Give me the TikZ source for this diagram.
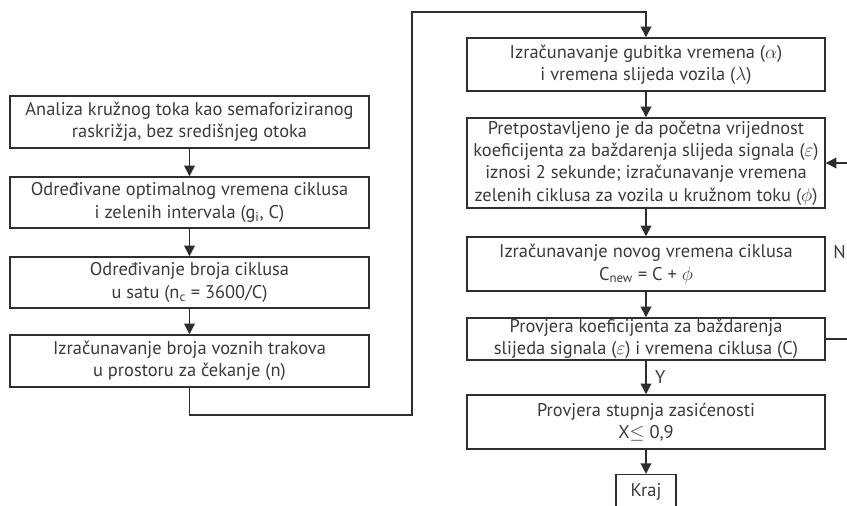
\documentclass[tikz,border=0pt]{standalone}
\usepackage{fontspec}
\setmainfont{PT Sans}
\usepackage{tikz}
\usetikzlibrary{arrows.meta,calc}
\usetikzlibrary{positioning}
\definecolor{ink}{HTML}{2E2E2E}
\definecolor{txt}{HTML}{3A3A3A}

\begin{document}
\begin{tikzpicture}[x=0.75pt,y=-0.75pt,>={Triangle[length=8pt,width=8pt]},line join=miter,
  font=\fontsize{13.8}{16.8}\selectfont,
  every node/.style={text=txt},
  lbox/.style={draw=ink,line width=1.1pt,align=center,minimum width=269pt,inner sep=0pt},
  rbox/.style={draw=ink,line width=1.1pt,align=center,minimum width=268.5pt,inner sep=0pt},
  flow/.style={draw=ink,line width=1.1pt}]
\clip (0,0) rectangle (847,506);
% --- left column
\node[lbox,minimum height=39pt] (anal) at (189.5,122) {Analiza kružnog toka kao semaforiziranog\\ raskrižja, bez središnjeg otoka};
\node[lbox,minimum height=38.25pt] (ciklus) at (189.5,202.5) {Određivane optimalnog vremena ciklusa\\ i zelenih intervala (g\textsubscript{i}, C)};
\node[lbox,minimum height=38.25pt] (broj) at (189.5,282.5) {Određivanje broja ciklusa\\ u satu (n\textsubscript{c} = 3600/C)};
\node[lbox,minimum height=39pt] (trak) at (189.5,361) {Izračunavanje broja voznih trakova\\ u prostoru za čekanje (n)};
% --- right column
\node[rbox,minimum height=39.75pt] (gub) at (646,64.5) {Izračunavanje gubitka vremena ($\alpha$)\\ i vremena slijeda vozila ($\lambda$)};
\node[rbox,minimum height=67.5pt] (pret) at (646,163) {Pretpostavljeno je da početna vrijednost\\ koeficijenta za baždarenja slijeda signala ($\varepsilon$)\\ iznosi 2 sekunde; izračunavanje vremena\\ zelenih ciklusa za vozila u kružnom toku ($\phi$)};
\node[rbox,minimum height=40.5pt] (novi) at (646,264) {Izračunavanje novog vremena ciklusa\\ C\textsubscript{new} = C + $\phi$};
\node[rbox,minimum height=31.5pt] (prov) at (646,339) {Provjera koeficijenta za baždarenja\\ slijeda signala ($\varepsilon$) i vremena ciklusa (C)};
\node[rbox,minimum height=40.5pt] (zas) at (646,422) {Provjera stupnja zasićenosti\\ X$\leq$ 0,9};
\node[draw=ink,line width=1.1pt,minimum width=45pt,minimum height=26pt,inner sep=0pt] (kraj) at (646,492) {Kraj};
% --- connectors
\draw[flow,->] (anal) -- (ciklus);
\draw[flow,->] (ciklus) -- (broj);
\draw[flow,->] (broj) -- (trak);
\draw[flow,->] (trak.south) |- (412,415) |- (646,12) -- (gub.north);
\draw[flow,->] (gub) -- (pret);
\draw[flow,->] (pret) -- (novi);
\draw[flow,->] (novi) -- (prov);
\draw[flow,->] (prov) -- node[right=3pt] {Y} (zas);
\draw[flow,->] (zas) -- (kraj);
% feedback (runs off the right edge)
\draw[flow,->] (prov.east) -- ++(40,0) |- (pret.east);
\node[anchor=east,inner sep=0pt] (no) at (846,252) {N};
\end{tikzpicture}
\end{document}
